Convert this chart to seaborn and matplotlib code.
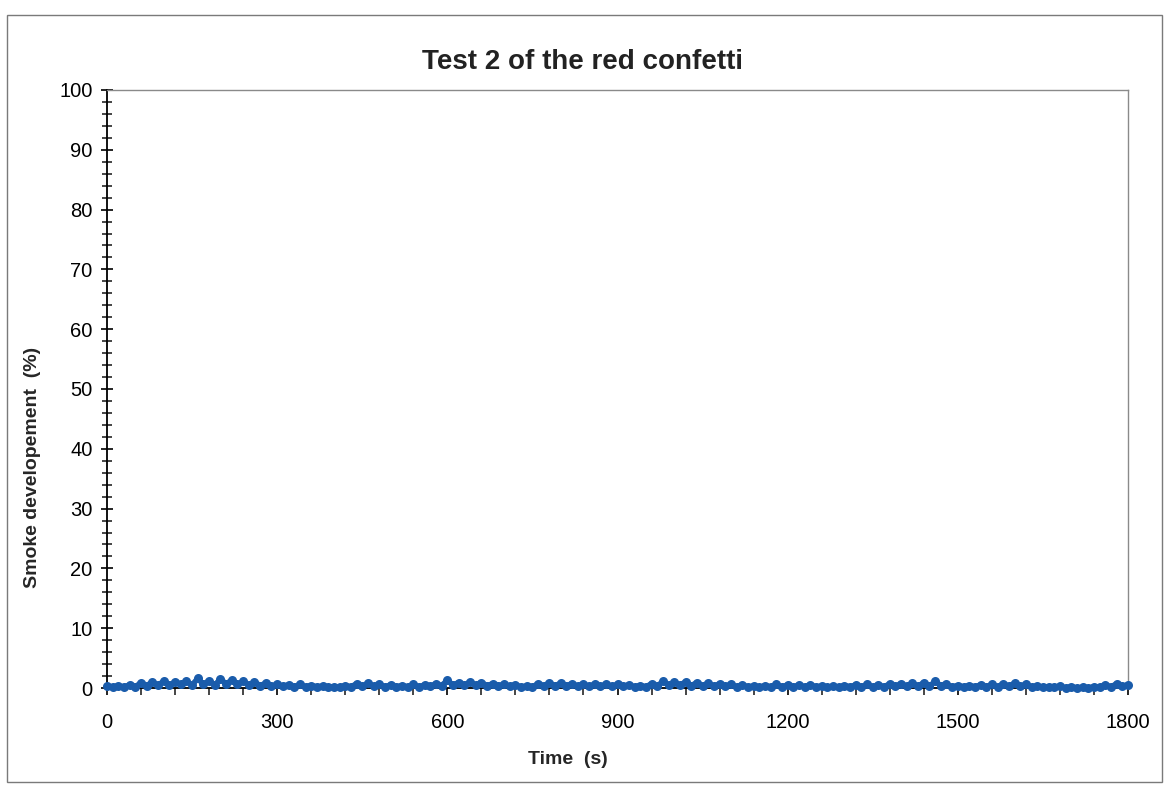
import numpy as np
import pandas as pd
import seaborn as sns
import matplotlib.pyplot as plt
from matplotlib.patches import Rectangle
from matplotlib.ticker import MultipleLocator

sns.set_style("white")
plt.rcParams['font.family'] = ['Liberation Sans', 'DejaVu Sans']

# time in seconds, every 10 s
time_s = list(range(0, 1810, 10))

# smoke development (%), one row per 100 s
smoke = [
    0.3, 0.2, 0.3, 0.2, 0.5, 0.2, 0.9, 0.4, 1.0, 0.5,
    1.1, 0.5, 1.0, 0.6, 1.1, 0.5, 1.6, 0.6, 1.2, 0.5,
    1.5, 0.7, 1.3, 0.6, 1.1, 0.5, 1.0, 0.4, 0.8, 0.3,
    0.6, 0.3, 0.5, 0.2, 0.6, 0.2, 0.4, 0.2, 0.3, 0.2,
    0.2, 0.1, 0.4, 0.2, 0.7, 0.3, 0.8, 0.3, 0.6, 0.2,
    0.5, 0.2, 0.4, 0.2, 0.6, 0.2, 0.5, 0.3, 0.7, 0.4,
    1.3, 0.5, 0.9, 0.5, 1.0, 0.5, 0.9, 0.4, 0.7, 0.4,
    0.6, 0.3, 0.5, 0.2, 0.3, 0.2, 0.7, 0.4, 0.8, 0.4,
    0.8, 0.4, 0.7, 0.3, 0.6, 0.3, 0.6, 0.3, 0.6, 0.3,
    0.6, 0.3, 0.5, 0.2, 0.4, 0.2, 0.7, 0.3, 1.1, 0.5,
    1.0, 0.5, 1.0, 0.4, 0.9, 0.4, 0.8, 0.3, 0.7, 0.3,
    0.6, 0.2, 0.5, 0.2, 0.3, 0.1, 0.4, 0.2, 0.6, 0.2,
    0.5, 0.2, 0.5, 0.2, 0.5, 0.2, 0.3, 0.1, 0.3, 0.1,
    0.4, 0.2, 0.5, 0.2, 0.6, 0.2, 0.5, 0.2, 0.7, 0.3,
    0.7, 0.3, 0.8, 0.3, 0.9, 0.3, 1.1, 0.4, 0.6, 0.2,
    0.4, 0.2, 0.4, 0.2, 0.5, 0.2, 0.6, 0.2, 0.7, 0.3,
    0.8, 0.3, 0.6, 0.2, 0.3, 0.1, 0.2, 0.1, 0.3, 0.0,
    0.2, 0.0, 0.1, 0.0, 0.2, 0.1, 0.5, 0.2, 0.7, 0.3,
    0.5,
]

df = pd.DataFrame({"time": time_s, "smoke": smoke})

W, H = 1165, 787
fig = plt.figure(figsize=(W / 100, H / 100), dpi=100)
ax = fig.add_axes([107 / W, 1 - 688 / H, (1128 - 107) / W, (688 - 90) / H])

sns.lineplot(data=df, x="time", y="smoke", ax=ax, color="#1a5cab",
             linewidth=4, marker="o", markersize=6.5, markeredgewidth=0,
             clip_on=False, zorder=5)

ax.set_xlim(0, 1800)
ax.set_ylim(0, 100)
ax.xaxis.set_major_locator(MultipleLocator(300))
ax.xaxis.set_minor_locator(MultipleLocator(60))
ax.yaxis.set_major_locator(MultipleLocator(10))
ax.yaxis.set_minor_locator(MultipleLocator(2))

ax.tick_params(axis="x", which="major", direction="out", length=5, width=1.2,
               pad=13, labelsize=14.5, colors="black")
ax.tick_params(axis="x", which="minor", direction="out", length=5, width=1.2)
ax.tick_params(axis="y", which="major", direction="inout", length=9, width=1.2,
               pad=6, labelsize=14.5, colors="black")
ax.tick_params(axis="y", which="minor", direction="inout", length=7, width=1.2)
ax.xaxis.set_ticks_position("bottom")
ax.yaxis.set_ticks_position("left")

for side in ["left", "bottom"]:
    ax.spines[side].set_color("black")
    ax.spines[side].set_linewidth(1.3)
for side in ["top", "right"]:
    ax.spines[side].set_color("#8a8a8a")
    ax.spines[side].set_linewidth(1.0)

ax.set_xlabel("")
ax.set_ylabel("")

fig.text(582 / W, 1 - 62 / H, "Test 2 of the red confetti", ha="center",
         va="center", fontsize=20, fontweight="bold", color="#222222")
fig.text(33 / W, 1 - 467 / H, "Smoke developement  (%)", ha="center",
         va="center", rotation=90, fontsize=14, fontweight="bold")
fig.text(568 / W, 1 - 760 / H, "Time  (s)", ha="center", va="center",
         fontsize=14, fontweight="bold")

# outer chart frame
fig.patches.append(Rectangle((7 / W, 1 - 782 / H), (1162 - 7) / W, (782 - 15) / H,
                             transform=fig.transFigure, fill=False,
                             edgecolor="#7a7a7a", linewidth=1.0))

fig.savefig("out.png", dpi=100)
